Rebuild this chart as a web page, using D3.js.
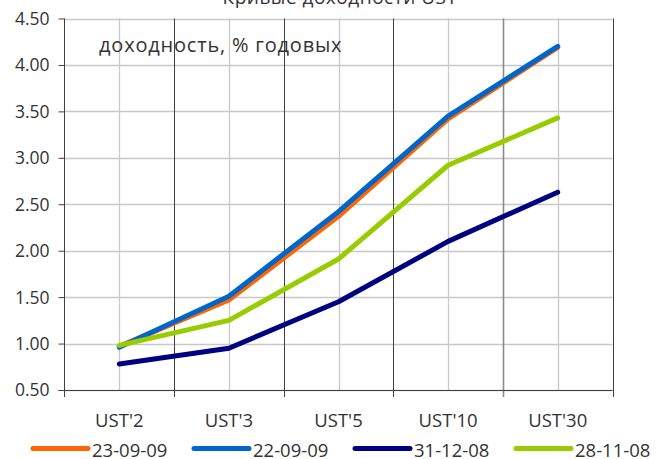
<!DOCTYPE html>
<html><head><meta charset="utf-8">
<script src="https://cdn.jsdelivr.net/npm/d3@7"></script>
<style>
body{margin:0;background:#fff;}
text{font-family:"Open Sans",sans-serif;fill:#333;}
</style></head>
<body><svg id="c" width="657" height="459"></svg>
<script>
const categories = ["UST'2","UST'3","UST'5","UST'10","UST'30"];
const seriesNames = ["23-09-09","22-09-09","31-12-08","28-11-08"];
const seriesColors = ["#ff6600","#0066cc","#000080","#99cc00"];
const s23_09_09 = [0.97,1.47,2.37,3.42,4.19];
const s22_09_09 = [0.96,1.51,2.42,3.45,4.20];
const s31_12_08 = [0.78,0.95,1.45,2.10,2.63];
const s28_11_08 = [0.98,1.25,1.91,2.92,3.43];
const yTicks = [0.5,1.0,1.5,2.0,2.5,3.0,3.5,4.0,4.5];
const title = "Кривые доходности UST";
const yLabel = "доходность, % годовых";

const series = [s23_09_09,s22_09_09,s31_12_08,s28_11_08];
const svg = d3.select("#c");
const L=64.5, R=612.5, T=18.5, B=390;
const x = d3.scaleBand().domain(categories).range([L,R]).padding(0);
const y = d3.scaleLinear().domain([0.5,4.5]).range([B,T]);

// horizontal grid
svg.append("g").selectAll("line").data(yTicks).join("line")
  .attr("x1",L).attr("x2",R).attr("y1",d=>Math.round(y(d))+0.5).attr("y2",d=>Math.round(y(d))+0.5)
  .attr("stroke","#c8c8c8").attr("stroke-width",1.3);
// vertical light grid at category centers
svg.append("g").selectAll("line").data(categories).join("line")
  .attr("x1",d=>Math.round(x(d)+x.bandwidth()/2)+0.5).attr("x2",d=>Math.round(x(d)+x.bandwidth()/2)+0.5)
  .attr("y1",T).attr("y2",B).attr("stroke","#c8c8c8").attr("stroke-width",1.3);
// dark vertical lines at category boundaries
const bounds = categories.map(c=>x(c)).concat([R]);
svg.append("g").selectAll("line").data(bounds.slice(1)).join("line")
  .attr("x1",d=>Math.round(d)+0.5).attr("x2",d=>Math.round(d)+0.5)
  .attr("y1",T).attr("y2",B+7).attr("stroke",(d,i)=>i===3?"#8a8a8a":"#404040").attr("stroke-width",(d,i)=>i===3?1.6:1);

// y axis
const ya = svg.append("g").attr("transform",`translate(${L},0)`)
  .call(d3.axisLeft(y).tickValues(yTicks).tickSize(6).tickPadding(9).tickFormat(d3.format(".2f")));
ya.select(".domain").attr("stroke","#404040").attr("d",`M0,${T}V${B}`);
ya.selectAll(".tick line").attr("stroke","#404040");
ya.selectAll(".tick text").style("font-size","17.5px").attr("fill","#333").attr("dy","0.34em");
// x axis
const xa = svg.append("g").attr("transform",`translate(0,${B})`)
  .call(d3.axisBottom(x).tickSize(0).tickPadding(24));
xa.select(".domain").attr("stroke","#404040").attr("d",`M${L-6},0.5H${R}`);
xa.selectAll(".tick text").style("font-size","18.5px").attr("fill","#333");
svg.append("line").attr("x1",L).attr("x2",L).attr("y1",B).attr("y2",B+7).attr("stroke","#404040");

// lines
const line = d3.line().x((d,i)=>x(categories[i])+x.bandwidth()/2).y(d=>y(d));
svg.append("g").selectAll("path").data(series).join("path")
  .attr("d",line).attr("fill","none").attr("stroke",(d,i)=>seriesColors[i])
  .attr("stroke-width",5).attr("stroke-linejoin","round").attr("stroke-linecap","round");

// title and annotation
svg.append("text").attr("x",340).attr("y",4).attr("text-anchor","middle")
  .style("font-size","19px").style("letter-spacing","0.5px").text(title);
svg.append("text").attr("x",99).attr("y",52).style("font-size","20px").style("letter-spacing","0.8px").text(yLabel);

// legend
const lg = svg.append("g").selectAll("g").data(seriesNames).join("g")
  .attr("transform",(d,i)=>`translate(${33+i*161},448.5)`);
lg.append("line").attr("x1",0).attr("x2",55).attr("stroke",(d,i)=>seriesColors[i])
  .attr("stroke-width",5).attr("stroke-linecap","round");
lg.append("text").attr("x",59).attr("y",8.5).style("font-size","18.5px").text(d=>d);
</script></body></html>
